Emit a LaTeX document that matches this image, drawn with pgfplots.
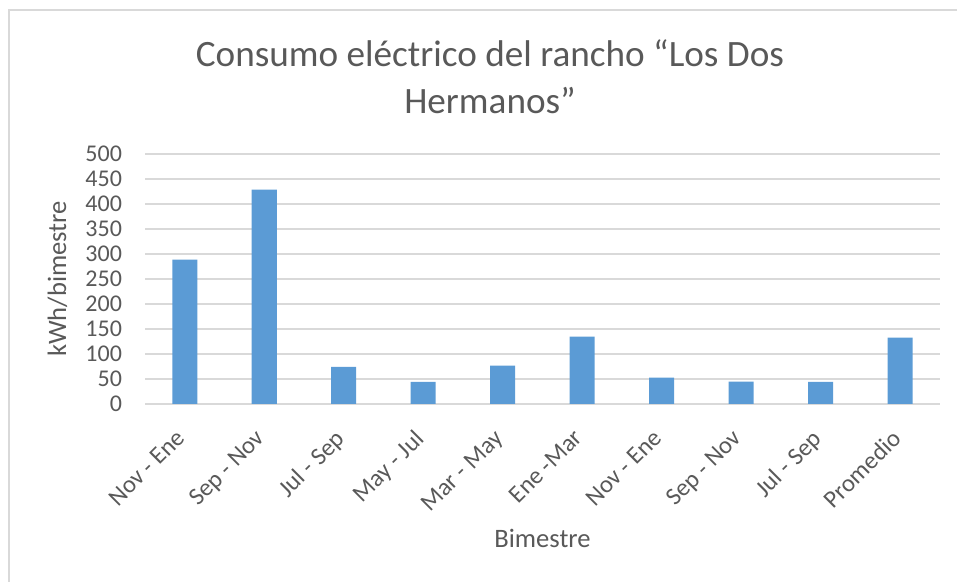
\documentclass[border=0pt]{standalone}
\usepackage{pgfplots}
\pgfplotsset{compat=1.18}
\usepackage{fontspec}
\setmainfont{Carlito}
\definecolor{barblue}{HTML}{5B9BD5}
\definecolor{gridgray}{HTML}{D9D9D9}
\definecolor{txtgray}{HTML}{595959}
\begin{document}
\begin{tikzpicture}
\useasboundingbox (0,0) rectangle (478.5pt,291pt);
\draw[gridgray, line width=0.8pt] (4.5pt,0pt) -- (4.5pt,286pt) -- (478.5pt,286pt);
\begin{axis}[
  at={(72.5pt,89pt)}, anchor=south west,
  width=397.5pt, height=125pt, scale only axis,
  ybar, bar width=12.5pt,
  xmin=-0.5, xmax=9.5, ymin=0, ymax=500,
  ytick={0,50,...,500},
  xtick={0,...,9},
  xticklabels={Nov - Ene, Sep - Nov, Jul - Sep, May - Jul, Mar - May, Ene -Mar, Nov - Ene, Sep - Nov, Jul - Sep, Promedio},
  xticklabel style={xshift=-5pt, yshift=-10.5pt, rotate=45, anchor=north east, font=\fontsize{12.3}{14}\selectfont, text=txtgray, inner sep=1pt},
  yticklabel style={font=\fontsize{12}{14}\selectfont, text=txtgray, xshift=-8pt},
  /pgf/number format/assume math mode=true,
  major tick length=0pt,
  ymajorgrids, grid style={gridgray, line width=0.8pt},
  axis line style={draw=none},
  ylabel={kWh/bimestre},
  ylabel style={at={(axis description cs:-0.110,0.5)}, anchor=center, font=\fontsize{13.3}{15}\selectfont, text=txtgray},
  xlabel={Bimestre},
  xlabel style={at={(axis description cs:0.5,-0.536)}, anchor=center, font=\fontsize{13.3}{15}\selectfont, text=txtgray},
  title={Consumo eléctrico del rancho “Los Dos\\Hermanos”},
  title style={at={(axis description cs:0.434,1.262)}, anchor=center, align=center, font=\fontsize{18.6}{23.5}\selectfont, text=txtgray},
  clip=false,
]
\addplot[fill=barblue, draw=none] coordinates {
(0,288.7) (1,428.7) (2,74) (3,44) (4,76.7) (5,134.7) (6,52.7) (7,44.7) (8,44) (9,132.7)
};
\end{axis}
\end{tikzpicture}
\end{document}
